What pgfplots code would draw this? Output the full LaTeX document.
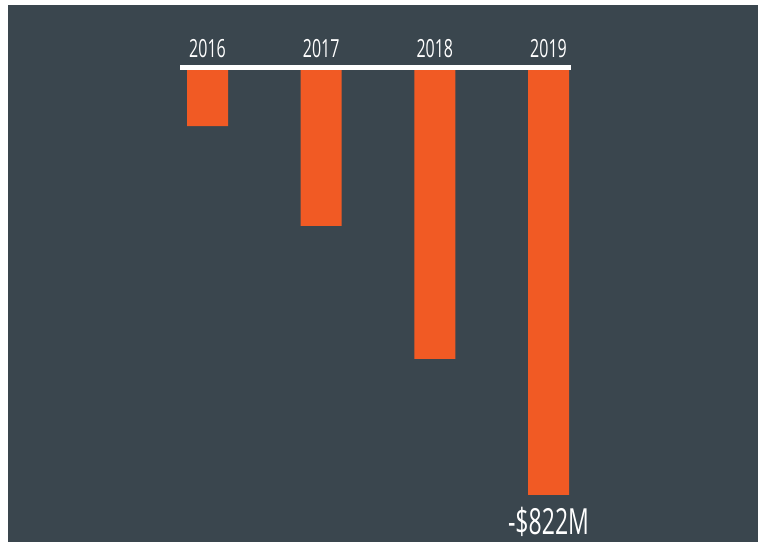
\documentclass[border=0pt]{standalone}
\usepackage{pgfplots}
\pgfplotsset{compat=1.18}
\usepackage{fontspec}
\setmainfont{Open Sans}[FakeStretch=0.64]
\definecolor{bg}{HTML}{3A464E}
\definecolor{bar}{HTML}{F15A24}
\begin{document}
\begin{tikzpicture}
\useasboundingbox (0,0) rectangle (759bp,542bp);
\fill[white] (0,0) rectangle (759bp,542bp);
\fill[bg] (8bp,0) rectangle (758bp,537bp);
\begin{axis}[
  at={(180bp,474bp)}, anchor=north west,
  scale only axis, width=391bp, height=427bp,
  xmin=0.758, xmax=4.198, ymin=-822, ymax=0,
  axis line style={draw=none},
  ytick=\empty,
  xtick={1,2,3,4},
  xticklabels={2016,2017,2018,2019},
  xticklabel pos=upper,
  major tick length=0pt,
  xticklabel shift=10bp,
  xticklabel style={text=white, anchor=south, inner sep=0pt, font=\fontsize{25bp}{25bp}\selectfont},
  clip=false,
]
\addplot[ybar, bar width=41bp, fill=bar, draw=none] coordinates {(1,-112) (2,-304) (3,-560) (4,-822)};
\draw[white, line width=5bp] (rel axis cs:0,1) -- (rel axis cs:1,1);
\node[text=white, anchor=north, inner sep=0pt, font=\fontsize{36bp}{36bp}\selectfont] at (axis cs:4,-822) [yshift=-12bp] {-\$822M};
\end{axis}
\end{tikzpicture}
\end{document}
